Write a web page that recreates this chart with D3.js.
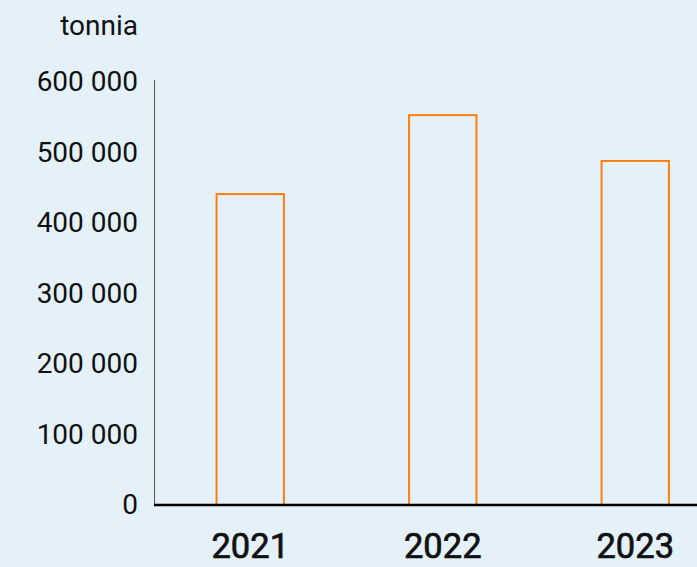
<!DOCTYPE html>
<html>
<head>
<meta charset="utf-8">
<script src="https://cdn.jsdelivr.net/npm/d3@7"></script>
<style>
  html, body { margin: 0; padding: 0; background: #e4f1f9; }
  svg { display: block; font-family: Roboto, sans-serif; }
</style>
</head>
<body>
<svg id="chart"></svg>
<script>
var width = 697;
var height = 567;

// data
var years = ["2021", "2022", "2023"];
var tonnes = [441000, 553000, 488000];
var yTicks = [0, 100000, 200000, 300000, 400000, 500000, 600000];
var unitLabel = "tonnia";

var margin = {top: 82, left: 154, bottom: 62};

var svg = d3.select("#chart")
  .attr("width", width)
  .attr("height", height);

svg.append("rect")
  .attr("width", width)
  .attr("height", height)
  .attr("fill", "#e4f1f9");

var x = d3.scaleBand()
  .domain(years)
  .range([margin.left, margin.left + 3 * 192.5])
  .paddingInner(0.65)
  .paddingOuter(0.325);

var y = d3.scaleLinear()
  .domain([0, 600000])
  .range([height - margin.bottom, margin.top]);

var fmt = function(d) { return d3.format(",")(d).replace(/,/g, " "); };

// y axis
var yAxis = svg.append("g")
  .attr("transform", "translate(" + margin.left + ",0)")
  .call(d3.axisLeft(y).tickValues(yTicks).tickSize(0).tickPadding(16).tickFormat(fmt));
yAxis.select(".domain")
  .attr("stroke", "#555")
  .attr("stroke-width", 1)
  .attr("d", "M0.5," + (margin.top - 2) + "V" + y(0));
yAxis.selectAll("text")
  .attr("font-family", "Roboto, sans-serif")
  .attr("font-size", 28)
  .attr("fill", "#111")
  .attr("dy", "0.32em");

svg.append("text")
  .attr("x", 138)
  .attr("y", 35)
  .attr("text-anchor", "end")
  .attr("font-size", 28)
  .attr("fill", "#111")
  .text(unitLabel);

// bars
svg.append("g")
  .selectAll("rect")
  .data(years)
  .join("rect")
    .attr("x", d => x(d))
    .attr("y", (d, i) => y(tonnes[i]))
    .attr("width", x.bandwidth())
    .attr("height", (d, i) => y(0) - y(tonnes[i]))
    .attr("fill", "none")
    .attr("stroke", "#ff7f0e")
    .attr("stroke-width", 2);

// baseline
svg.append("line")
  .attr("x1", margin.left)
  .attr("x2", width)
  .attr("y1", y(0))
  .attr("y2", y(0))
  .attr("stroke", "#000")
  .attr("stroke-width", 2.5);

// x axis labels (medium-ish weight)
var xAxis = svg.append("g")
  .attr("transform", "translate(0," + y(0) + ")")
  .call(d3.axisBottom(x).tickSize(0).tickPadding(29));
xAxis.select(".domain").remove();
xAxis.selectAll("text")
  .attr("font-family", "Roboto, sans-serif")
  .attr("font-size", 34.5)
  .attr("font-weight", 400)
  .attr("fill", "#111")
  .attr("stroke", "#111")
  .attr("stroke-width", 0.7);
</script>
</body>
</html>
